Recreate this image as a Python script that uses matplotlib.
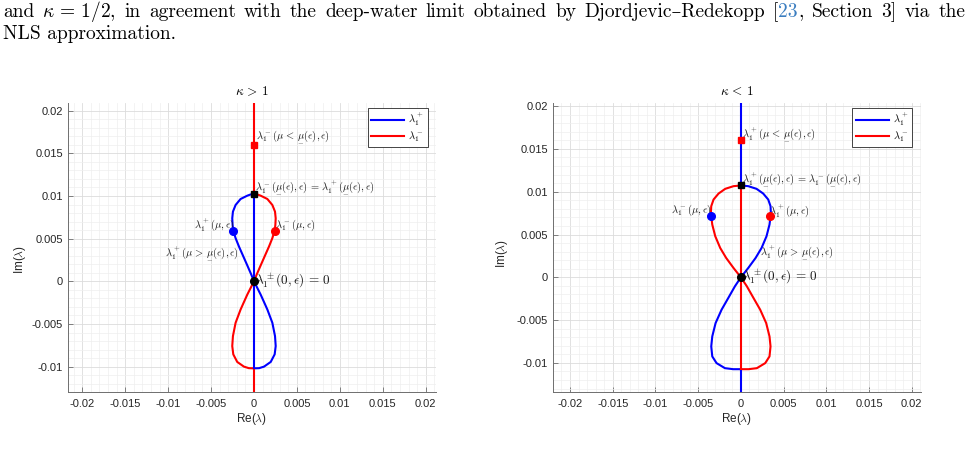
import matplotlib
matplotlib.use("Agg")
import matplotlib.pyplot as plt
from matplotlib.ticker import FixedLocator, MultipleLocator, FuncFormatter

plt.rcParams["mathtext.fontset"] = "cm"
plt.rcParams["axes.unicode_minus"] = False
plt.rcParams["font.family"] = ["Liberation Sans", "DejaVu Sans"]

BLUE = "#0000ff"
RED = "#ff0000"
DARK = "#262626"
CITE = "#3a7dc0"
SERIF = ["cmr10", "DejaVu Serif"]

# kappa > 1, lambda_1^+ branch: collision point -> upper-left lobe -> 0 -> lower-right lobe
gt_re = [0.0, -0.0004, -0.00078, -0.00156, -0.00214, -0.00245, -0.00253, -0.00249,
         -0.00241, -0.00214, -0.00175, -0.00124, -0.00078, -0.00031, 0.0,
         0.00039, 0.00078, 0.00117, 0.00156, 0.00214, 0.00245, 0.00253,
         0.00241, 0.00195, 0.00117, 0.0006, 0.0]
gt_im = [0.01023, 0.01018, 0.01004, 0.00965, 0.00895, 0.00817, 0.00739, 0.00661,
         0.00595, 0.00506, 0.00408, 0.00292, 0.00187, 0.00078, 0.0,
         -0.00078, -0.00156, -0.00243, -0.00331, -0.00486, -0.00642, -0.00759,
         -0.00856, -0.00945, -0.0100, -0.01018, -0.0102]

# kappa < 1, lambda_1^- branch: collision point -> upper-left lobe -> 0 -> lower-right lobe
lt_re = [0.0, -0.00086, -0.00183, -0.00261, -0.0032, -0.00347, -0.00351, -0.00347,
         -0.00335, -0.003, -0.00242, -0.00172, -0.00086, 0.0,
         0.0007, 0.00148, 0.00226, 0.00296, 0.00335, 0.00347, 0.00335, 0.00285,
         0.00187, 0.0009, 0.0]
lt_im = [0.01073, 0.01065, 0.01034, 0.00979, 0.00909, 0.00831, 0.00753, 0.00714,
         0.00616, 0.0048, 0.00343, 0.00226, 0.00109, 0.0,
         -0.00105, -0.00242, -0.00378, -0.00534, -0.0069, -0.00807, -0.00924, -0.01002,
         -0.01061, -0.01073, -0.01073]

# where the spectrum sits on the imaginary axis (inner part / outer parts)
gt_axis_inner = [-0.0102, 0.01023]
lt_axis_inner = [-0.01073, 0.01073]
axis_outer_top = 0.03
axis_outer_bottom = -0.03

# marked points: (re, im)
gt_square_red = (0.0, 0.016)
gt_square_black = (0.0, 0.01023)
gt_dot_blue = (-0.0024, 0.00595)
gt_dot_red = (0.0024, 0.00595)
lt_square_red = (0.0, 0.016)
lt_square_black = (0.0, 0.01073)
lt_dot_blue = (-0.00347, 0.00714)
lt_dot_red = (0.00345, 0.00714)
origin = (0.0, 0.0)

MU = r"\underset{-}{\mu}"
EQ = r"\,=\,"
gt_labels = [
    (0.0002, 0.0169, r"$\lambda_1^-(\mu\,<\," + MU + r"(\epsilon),\epsilon)$", "left", 7.5),
    (0.0001, 0.01106, r"$\lambda_1^-(" + MU + r"(\epsilon),\epsilon)" + EQ + r"\lambda_1^+(" + MU + r"(\epsilon),\epsilon)$", "left", 7.5),
    (-0.0023, 0.0066, r"$\lambda_1^+(\mu,\epsilon)$", "right", 7.5),
    (0.0024, 0.0066, r"$\lambda_1^-(\mu,\epsilon)$", "left", 7.5),
    (-0.00174, 0.00326, r"$\lambda_1^+(\mu\,>\," + MU + r"(\epsilon),\epsilon)$", "right", 7.5),
    (0.0001, 0.0001, r"$\lambda_1^\pm(0,\epsilon)" + EQ + r"0$", "left", 9.5),
]
lt_labels = [
    (0.0001, 0.01673, r"$\lambda_1^+(\mu\,<\," + MU + r"(\epsilon),\epsilon)$", "left", 7.5),
    (0.0001, 0.01153, r"$\lambda_1^+(" + MU + r"(\epsilon),\epsilon)" + EQ + r"\lambda_1^-(" + MU + r"(\epsilon),\epsilon)$", "left", 7.5),
    (-0.00345, 0.00785, r"$\lambda_1^-(\mu,\epsilon)$", "right", 7.5),
    (0.0033, 0.00785, r"$\lambda_1^+(\mu,\epsilon)$", "left", 7.5),
    (0.00226, 0.00298, r"$\lambda_1^+(\mu\,>\," + MU + r"(\epsilon),\epsilon)$", "left", 7.5),
    (0.0001, 0.00005, r"$\lambda_1^\pm(0,\epsilon)" + EQ + r"0$", "left", 9.5),
]

x_ticks = [-0.02, -0.015, -0.01, -0.005, 0, 0.005, 0.01, 0.015, 0.02]
y_ticks = [-0.01, -0.005, 0, 0.005, 0.01, 0.015, 0.02]

header_line1 = [
    [("and", "k")], [(r"$\kappa\,=\,1/2$,", "k")], [("in", "k")], [("agreement", "k")],
    [("with", "k")], [("the", "k")], [("deep-water", "k")], [("limit", "k")],
    [("obtained", "k")], [("by", "k")], [("Djordjevic–Redekopp", "k")],
    [("[", "k"), ("23", CITE), (",", "k")], [("Section", "k")], [("3]", "k")],
    [("via", "k")], [("the", "k")],
]
header_line2 = "NLS approximation."

W, H = 972, 454
fig = plt.figure(figsize=(W / 100, H / 100), dpi=100)


def style_axes(ax, xlim, ylim, ylabel_xy):
    ax.set_xlim(*xlim)
    ax.set_ylim(*ylim)
    ax.xaxis.set_major_locator(FixedLocator(x_ticks))
    ax.yaxis.set_major_locator(FixedLocator(y_ticks))
    ax.xaxis.set_minor_locator(MultipleLocator(0.001))
    ax.yaxis.set_minor_locator(MultipleLocator(0.001))
    fmt = FuncFormatter(lambda v, p: "%g" % round(v, 6))
    ax.xaxis.set_major_formatter(fmt)
    ax.yaxis.set_major_formatter(fmt)
    ax.grid(True, which="major", color="#dcdcdc", lw=0.6)
    ax.grid(True, which="minor", color="#eeeeee", lw=0.5)
    ax.set_axisbelow(True)
    for s in ("top", "right"):
        ax.spines[s].set_visible(False)
    for s in ("left", "bottom"):
        ax.spines[s].set_color("#6e6e6e")
        ax.spines[s].set_linewidth(0.7)
    ax.tick_params(which="major", direction="in", length=3.5, width=0.6,
                   color="#6e6e6e", labelcolor=DARK, labelsize=8)
    ax.tick_params(axis="x", pad=5)
    ax.tick_params(axis="y", pad=3.5)
    ax.tick_params(which="minor", length=0)
    ax.set_xlabel(r"Re($\lambda$)", fontsize=8.5, color=DARK, labelpad=1)
    ax.set_ylabel(r"Im($\lambda$)", fontsize=8.5, color=DARK)
    ax.yaxis.set_label_coords(*ylabel_xy)


def draw_panel(ax, plus_re, plus_im, minus_re, minus_im, inner_color, outer_color, inner):
    ax.plot(plus_re, plus_im, color=BLUE, lw=1.5, label=r"$\lambda_1^+$", zorder=3)
    ax.plot(minus_re, minus_im, color=RED, lw=1.5, label=r"$\lambda_1^-$", zorder=3)
    ax.plot([0, 0], [inner[1], axis_outer_top], color=outer_color, lw=1.5, zorder=3)
    ax.plot([0, 0], [axis_outer_bottom, inner[0]], color=outer_color, lw=1.5, zorder=3)
    ax.plot([0, 0], inner, color=inner_color, lw=1.5, zorder=3)


def draw_marks(ax, sq_red, sq_black, dot_blue, dot_red, labels):
    for x, y, s, ha, size in labels:
        ax.text(x, y, s, ha=ha, va="center", fontsize=size, color="#1a1a1a", zorder=4)
    ax.plot(*sq_red, marker="s", ms=4.5, color=RED, zorder=5)
    ax.plot(*sq_black, marker="s", ms=4.5, color="k", zorder=5)
    ax.plot(*dot_blue, marker="o", ms=5.5, color=BLUE, zorder=5)
    ax.plot(*dot_red, marker="o", ms=5.5, color=RED, zorder=5)
    ax.plot(*origin, marker="o", ms=5.5, color="k", zorder=5)


def legend(ax):
    leg = ax.legend(loc="upper right", bbox_to_anchor=(0.977, 0.982), borderaxespad=0,
                    fontsize=7.5, handlelength=3.2, handletextpad=0.4, borderpad=0.3,
                    labelspacing=0.1, fancybox=False, framealpha=1)
    leg.get_frame().set_edgecolor(DARK)
    leg.get_frame().set_linewidth(0.6)


# left panel: kappa > 1
ax1 = fig.add_axes([68 / W, 61.7 / H, 368 / W, 289.6 / H])
draw_panel(ax1, gt_re, gt_im, [-v for v in gt_re], gt_im, BLUE, RED, gt_axis_inner)
draw_marks(ax1, gt_square_red, gt_square_black, gt_dot_blue, gt_dot_red, gt_labels)
style_axes(ax1, (-0.02166, 0.0212), (-0.01301, 0.02094), (-0.11, 0.46))
ax1.set_title(r"$\kappa\,>\,1$", fontsize=9.5, pad=5.5)
legend(ax1)

# right panel: kappa < 1
ax2 = fig.add_axes([552.7 / W, 61.7 / H, 368 / W, 289.6 / H])
draw_panel(ax2, [-v for v in lt_re], lt_im, lt_re, lt_im, RED, BLUE, lt_axis_inner)
draw_marks(ax2, lt_square_red, lt_square_black, lt_dot_blue, lt_dot_red, lt_labels)
style_axes(ax2, (-0.02203, 0.02105), (-0.01343, 0.0204), (-0.116, 0.48))
ax2.set_title(r"$\kappa\,<\,1$", fontsize=9.5, pad=5.5)
legend(ax2)

# running text above the figure, justified between x0 and x1
renderer = fig.canvas.get_renderer()
x0, x1 = 3.0, 965.0
base1, base2 = 1 - 16.7 / H, 1 - 39.3 / H
size = 14
words = []
total = 0.0
for word in header_line1:
    parts = []
    for s, c in word:
        t = fig.text(0, base1, s, fontsize=size, color=c, family=SERIF, va="baseline")
        w = t.get_window_extent(renderer).width
        parts.append((t, w))
        total += w
    words.append(parts)
gap = (x1 - x0 - total) / (len(words) - 1)
x = x0
for parts in words:
    for t, w in parts:
        t.set_x(x / W)
        x += w
    x += gap
fig.text(x0 / W, base2, header_line2, fontsize=size, color="k", family=SERIF, va="baseline")

fig.savefig("out.png", dpi=100)
